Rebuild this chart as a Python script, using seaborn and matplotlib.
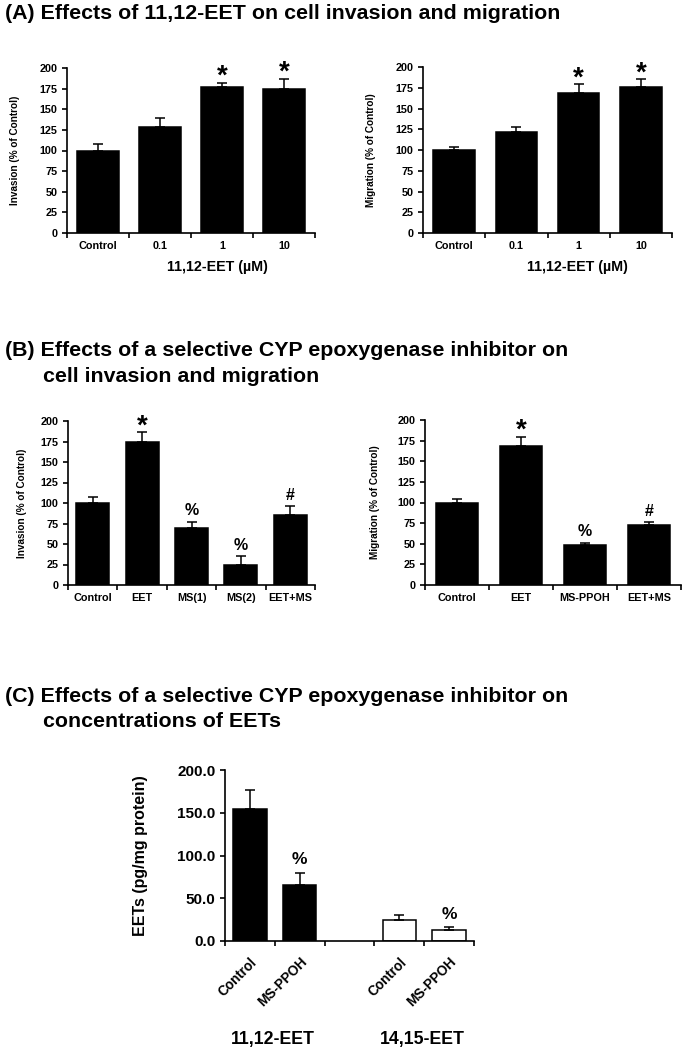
"""
Recreation of the three-panel EET invasion/migration bar chart figure
"""

import matplotlib
matplotlib.use("Agg")
import matplotlib.pyplot as plt
from matplotlib.ticker import MultipleLocator, FormatStrFormatter
import seaborn as sns
import pandas as pd
import numpy as np

sns.set_style("ticks")
plt.rcParams['font.family'] = ['Liberation Sans', 'DejaVu Sans']
plt.rcParams['font.weight'] = 'bold'
plt.rcParams['axes.labelweight'] = 'bold'
for key in ['text.color', 'axes.labelcolor', 'xtick.color', 'ytick.color',
            'axes.edgecolor']:
    plt.rcParams[key] = 'black'

# ---- data ----
a_doses = ['Control', '0.1', '1', '10']
a_invasion = [100, 128, 177, 175]
a_invasion_err = [8, 11, 5, 12]
a_invasion_marks = ['', '', '*', '*']
a_migration = [100, 122, 169, 176]
a_migration_err = [4, 6, 10, 9]
a_migration_marks = ['', '', '*', '*']

b_inv_groups = ['Control', 'EET', 'MS(1)', 'MS(2)', 'EET+MS']
b_invasion = [100, 175, 69, 24, 85]
b_invasion_err = [7, 11, 8, 11, 11]
b_invasion_marks = ['', '*', '%', '%', '#']

b_mig_groups = ['Control', 'EET', 'MS-PPOH', 'EET+MS']
b_migration = [100, 169, 49, 73]
b_migration_err = [4, 10, 2, 3]
b_migration_marks = ['', '*', '%', '#']

c_isomers = ['11,12-EET', '11,12-EET', '14,15-EET', '14,15-EET']
c_treatments = ['Control', 'MS-PPOH', 'Control', 'MS-PPOH']
c_eets = [154.0, 65.0, 25.0, 13.0]
c_eets_err = [23.0, 15.0, 5.0, 3.0]
c_marks = ['', '%', '', '%']
c_colors = ['black', 'black', 'white', 'white']

W, H = 686, 1050
fig = plt.figure(figsize=(W / 100, H / 100), dpi=100)


def px_axes(x0, y0, x1, y1):
    return fig.add_axes([x0 / W, 1 - y1 / H, (x1 - x0) / W, (y1 - y0) / H])


def px_text(x, y, s, **kw):
    fig.text(x / W, 1 - y / H, s, **kw)


def bar_panel(ax, keys, values, errs, marks, colors, order, ticklabels,
              tick_fs=7.8, star_fs=20, sym_fs=11.5, sym_off=8):
    df = pd.DataFrame({'key': keys, 'value': values})
    sns.barplot(data=df, x='key', y='value', order=order, hue='key',
                hue_order=keys, palette=dict(zip(keys, colors)), legend=False,
                width=0.67, edgecolor='black', linewidth=1.1, errorbar=None,
                ax=ax)
    pos = np.array([order.index(k) for k in keys])
    ax.errorbar(pos, values, yerr=[np.zeros(len(errs)), errs], fmt='none',
                ecolor='black', elinewidth=1.1, capsize=3.5, capthick=1.1)
    for p, v, e, m in zip(pos, values, errs, marks):
        if not m:
            continue
        fs, off = (star_fs, 4.5) if m == '*' else (sym_fs, sym_off)
        ax.annotate(m, (p, v + e), xytext=(0, off), textcoords='offset points',
                    ha='center', va='center', fontsize=fs, fontweight='bold',
                    annotation_clip=False)
    n = len(order)
    ax.set_xlim(-0.5, n - 0.5)
    ax.set_xticks(np.arange(-0.5, n, 1.0))
    ax.set_xticklabels([])
    ax.set_xticks(np.arange(n), minor=True)
    ax.set_xticklabels(ticklabels, minor=True)
    ax.tick_params(axis='x', which='minor', length=0, labelsize=tick_fs, pad=6)
    ax.tick_params(axis='both', which='major', length=3.5, width=1.2,
                   labelsize=tick_fs, direction='out')
    for s in ['left', 'bottom']:
        ax.spines[s].set_linewidth(1.2)
    sns.despine(ax=ax)
    ax.set_xlabel('')


def set_ylabel_px(ax, text, center_x, axis_left, axis_w, fs):
    ax.set_ylabel(text, fontsize=fs, fontweight='bold')
    half = fs * 1.39 / 2
    ax.yaxis.set_label_coords((center_x + half - axis_left) / axis_w, 0.5)


# ---- titles ----
title_kw = dict(fontsize=15.4, fontweight='bold', va='baseline', ha='left')
px_text(5, 19, '(A) Effects of 11,12-EET on cell invasion and migration', **title_kw)
px_text(5, 356, '(B) Effects of a selective CYP epoxygenase inhibitor on', **title_kw)
px_text(43, 382, 'cell invasion and migration', **title_kw)
px_text(5, 702, '(C) Effects of a selective CYP epoxygenase inhibitor on', **title_kw)
px_text(43, 727, 'concentrations of EETs', **title_kw)

# ---- panel A ----
ax = px_axes(67, 68, 315, 233)
bar_panel(ax, a_doses, a_invasion, a_invasion_err, a_invasion_marks,
          ['black'] * 4, a_doses, a_doses)
ax.set_ylim(0, 200)
ax.yaxis.set_major_locator(MultipleLocator(25))
set_ylabel_px(ax, 'Invasion (% of Control)', 15, 67, 248, 7.2)
ax.set_xlabel('11,12-EET (\u00b5M)', fontsize=10.3, fontweight='bold')
ax.xaxis.set_label_coords((217 - 67) / 248, (233 - 260) / 165)

ax = px_axes(423, 67, 672, 233)
bar_panel(ax, a_doses, a_migration, a_migration_err, a_migration_marks,
          ['black'] * 4, a_doses, a_doses)
ax.set_ylim(0, 200)
ax.yaxis.set_major_locator(MultipleLocator(25))
set_ylabel_px(ax, 'Migration (% of Control)', 371, 423, 249, 7.2)
ax.set_xlabel('11,12-EET (\u00b5M)', fontsize=10.3, fontweight='bold')
ax.xaxis.set_label_coords((577 - 423) / 249, (233 - 260) / 166)

# ---- panel B ----
ax = px_axes(68, 421, 315, 585)
bar_panel(ax, b_inv_groups, b_invasion, b_invasion_err, b_invasion_marks,
          ['black'] * 5, b_inv_groups, b_inv_groups)
ax.set_ylim(0, 200)
ax.yaxis.set_major_locator(MultipleLocator(25))
set_ylabel_px(ax, 'Invasion (% of Control)', 22, 68, 247, 7.2)

ax = px_axes(425, 420, 681, 585)
bar_panel(ax, b_mig_groups, b_migration, b_migration_err, b_migration_marks,
          ['black'] * 4, b_mig_groups, b_mig_groups)
ax.set_ylim(0, 200)
ax.yaxis.set_major_locator(MultipleLocator(25))
set_ylabel_px(ax, 'Migration (% of Control)', 375, 425, 256, 7.2)

# ---- panel C ----
c_keys = [f'{i} {t}' for i, t in zip(c_isomers, c_treatments)]
c_order = c_keys[:2] + ['gap'] + c_keys[2:]
c_ticklabels = c_treatments[:2] + [''] + c_treatments[2:]
ax = px_axes(225, 770, 474, 941)
bar_panel(ax, c_keys, c_eets, c_eets_err, c_marks, c_colors, c_order,
          c_ticklabels, tick_fs=11, sym_fs=12.5, sym_off=9.5)
ax.set_ylim(0, 200)
ax.yaxis.set_major_locator(MultipleLocator(50))
ax.yaxis.set_major_formatter(FormatStrFormatter('%.1f'))
ax.tick_params(axis='x', which='minor', labelsize=9.8, pad=10)
for lab in ax.get_xticklabels(minor=True):
    lab.set_rotation(45)
    lab.set_ha('right')
    lab.set_va('top')
    lab.set_rotation_mode('anchor')
set_ylabel_px(ax, 'EETs (pg/mg protein)', 140, 225, 249, 11.5)

for name, xc in zip(['11,12-EET', '14,15-EET'], [273, 422]):
    px_text(xc, 1044, name, fontsize=12.8, fontweight='bold', ha='center',
            va='baseline')

fig.savefig('out.png', dpi=100)
